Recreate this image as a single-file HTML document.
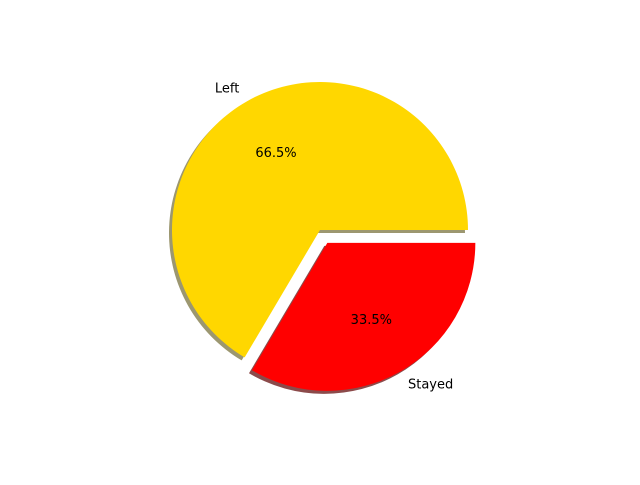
<!DOCTYPE html>
<html><head><meta charset="utf-8"><style>
html,body{margin:0;padding:0;background:#fff;}
svg text{font-family:"DejaVu Sans","Liberation Sans",sans-serif;font-size:13px;fill:#000;}
</style></head><body>
<svg id="chart" width="640" height="480" viewBox="0 0 640 480" xmlns="http://www.w3.org/2000/svg"></svg>
<script>
const labels = ["Left", "Stayed"];
const values = [66.5, 33.5];
const explode = [0, 0.1];
const colors = ["#ffd700", "#ff0000"];
const shadowColors = ["#9c9770", "#8c4a4a"];

const svg = document.getElementById('chart');
const NS = 'http://www.w3.org/2000/svg';
const cx = 320, cy = 230, R = 148;
const total = values.reduce((a,b)=>a+b,0);
function pt(x,y,r,a){return [x+r*Math.cos(a), y-r*Math.sin(a)];}
function wedge(x,y,a0,a1){
  const p0=pt(x,y,R,a0), p1=pt(x,y,R,a1);
  const large=(a1-a0)>Math.PI?1:0;
  return `M${x},${y} L${p0[0]},${p0[1]} A${R},${R} 0 ${large} 0 ${p1[0]},${p1[1]} Z`;
}
let start=0;
const geo=[];
values.forEach((v,i)=>{
  const a0=start, a1=start+v/total*2*Math.PI, mid=(a0+a1)/2;
  const ox=cx+explode[i]*R*Math.cos(mid), oy=cy-explode[i]*R*Math.sin(mid);
  geo.push({a0,a1,mid,ox,oy});
  start=a1;
});
geo.forEach((g,i)=>{
  const s=document.createElementNS(NS,'path');
  s.setAttribute('d',wedge(g.ox-3,g.oy+3,g.a0,g.a1));
  s.setAttribute('fill',shadowColors[i]);
  
  
  svg.appendChild(s);
});
geo.forEach((g,i)=>{
  const p=document.createElementNS(NS,'path');
  p.setAttribute('d',wedge(g.ox,g.oy,g.a0,g.a1));
  p.setAttribute('fill',colors[i]);
  
  
  svg.appendChild(p);
  const lp=pt(g.ox,g.oy,1.1*R,g.mid);
  const t=document.createElementNS(NS,'text');
  t.setAttribute('x',lp[0]);t.setAttribute('y',lp[1]+4);
  t.setAttribute('text-anchor',Math.cos(g.mid)<0?'end':'start');
  t.textContent=labels[i];
  
  
  svg.appendChild(t);
  const pp=pt(g.ox,g.oy,0.6*R,g.mid);
  const u=document.createElementNS(NS,'text');
  u.setAttribute('x',pp[0]);u.setAttribute('y',pp[1]+4);
  u.setAttribute('text-anchor','middle');
  u.textContent=values[i].toFixed(1)+'%';
  
  
  svg.appendChild(u);
});
</script>
</body></html>
